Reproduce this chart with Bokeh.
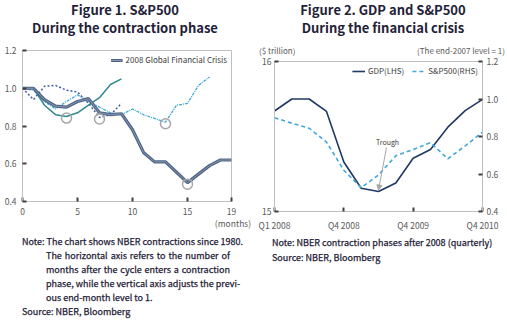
from bokeh.plotting import figure
from bokeh.models import (Range1d, LinearAxis, FixedTicker, Label, Legend, LegendItem,
                          Arrow, NormalHead, Div)
from bokeh.layouts import row, column
from bokeh.embed import file_html
from bokeh.resources import INLINE
import numpy as np

# ---------------- data ----------------
# Figure 1: S&P500 during contraction phases (months after cycle start, previous end-month = 1)
gfc_months = list(range(0, 20))
gfc_vals = [1.0, 1.0, 0.94, 0.905, 0.90, 0.93, 0.945, 0.87, 0.86, 0.865,
            0.78, 0.66, 0.61, 0.61, 0.555, 0.50, 0.545, 0.59, 0.62, 0.62]
teal_months = list(range(0, 10))
teal_vals = [1.0, 1.0, 0.91, 0.86, 0.85, 0.87, 0.91, 0.95, 1.02, 1.05]
navy_months = list(range(0, 10))
navy_vals = [1.0, 0.94, 1.01, 1.015, 0.99, 0.98, 0.92, 0.845, 0.86, 0.92]
light_months = list(range(0, 18))
light_vals = [1.0, 0.99, 0.93, 0.89, 0.93, 0.965, 0.93, 0.90, 0.87, 0.86,
              0.89, 0.86, 0.84, 0.82, 0.91, 0.92, 1.015, 1.06]
fig1_xticks = [0, 5, 10, 15, 19]
fig1_yticks = [0.4, 0.6, 0.8, 1.0, 1.2]

# Figure 2: GDP (LHS, $ trillion) and S&P500 (RHS, end-2007 = 1), quarterly
q_index = list(range(0, 13))
q_tick_labels = {0: "Q1 2008", 4: "Q4 2008", 8: "Q4 2009", 12: "Q4 2010"}
gdp_vals = [15.67, 15.75, 15.75, 15.667, 15.33, 15.155, 15.133, 15.19, 15.355,
            15.413, 15.562, 15.673, 15.747]
sp_vals = [0.90, 0.871, 0.844, 0.77, 0.62, 0.527, 0.595, 0.697, 0.731, 0.767,
           0.681, 0.75, 0.823]

FONT = "Noto Sans CJK KR"
TXT = "#1f2238"
AX = "#bfbfbf"
TICKLAB = "#595959"

def style_axis(ax):
    ax.axis_line_color = AX
    ax.major_tick_line_color = "#404040"
    ax.major_tick_line_width = 2
    ax.major_tick_in = 4
    ax.major_tick_out = 0
    ax.minor_tick_line_color = None
    ax.major_label_text_font = FONT
    ax.major_label_text_font_size = "8.5px"
    ax.major_label_text_color = TICKLAB

# ---------------- Figure 1 ----------------
p1 = figure(width=253, height=175, x_range=Range1d(0, 19), y_range=Range1d(0.4, 1.2),
            output_backend="svg", toolbar_location=None, margin=0,
            min_border_left=22, min_border_right=22, min_border_top=6, min_border_bottom=18)
p1.grid.visible = False
p1.outline_line_color = AX
style_axis(p1.xaxis[0]); style_axis(p1.yaxis[0])
p1.xaxis.ticker = FixedTicker(ticks=fig1_xticks)
p1.yaxis.ticker = FixedTicker(ticks=fig1_yticks)
p1.yaxis.major_label_overrides = {v: f"{v:.1f}" for v in fig1_yticks}
p1.xaxis.major_label_standoff = 6
p1.yaxis.major_label_standoff = 6

p1.line(light_months, light_vals, line_color="#3ea8d4", line_width=1.3, line_dash="3 1 1 1")
p1.line(navy_months, navy_vals, line_color="#3d5ea6", line_width=1.5, line_dash="2 2")
p1.line(teal_months, teal_vals, line_color="#31898e", line_width=1.5)
g_outer = p1.line(gfc_months, gfc_vals, line_color="#4f6485", line_width=3.2)
g_inner = p1.line(gfc_months, gfc_vals, line_color="#8696b0", line_width=1)

# trough circles
tx, ty = [], []
for ms, vs in ((teal_months, teal_vals), (navy_months, navy_vals),
               (light_months, light_vals), (gfc_months, gfc_vals)):
    i = int(np.argmin(vs))
    tx.append(ms[i]); ty.append(vs[i] - 0.008)
p1.scatter(tx, ty, size=10, fill_color=None, line_color="#a6a6a6", line_width=1.5)

leg1 = Legend(items=[LegendItem(label="2008 Global Financial Crisis", renderers=[g_outer, g_inner])],
              location="top_right", margin=4, padding=0, border_line_color=None,
              background_fill_alpha=0, label_text_font=FONT, label_text_font_size="8px",
              label_text_color="#404040", glyph_width=12, glyph_height=10, label_height=10,
              label_standoff=3)
p1.add_layout(leg1)

# ---------------- Figure 2 ----------------
p2 = figure(width=254, height=179, x_range=Range1d(0, 12), y_range=Range1d(15, 16),
            output_backend="svg", toolbar_location=None, margin=0,
            min_border_left=21, min_border_right=25, min_border_top=5, min_border_bottom=24)
p2.extra_y_ranges = {"rhs": Range1d(0.4, 1.2)}
p2.grid.visible = False
p2.outline_line_color = AX
rax = LinearAxis(y_range_name="rhs")
p2.add_layout(rax, "right")
for ax in (p2.xaxis[0], p2.yaxis[0], rax):
    style_axis(ax)
p2.xaxis.ticker = FixedTicker(ticks=list(q_tick_labels.keys()))
p2.xaxis.major_label_overrides = q_tick_labels
p2.xaxis.major_label_standoff = 7
p2.yaxis[0].ticker = FixedTicker(ticks=[15, 16])
p2.yaxis[0].major_label_standoff = 3
rax.ticker = FixedTicker(ticks=fig1_yticks)
rax.major_label_overrides = {v: f"{v:.1f}" for v in fig1_yticks}
rax.major_label_standoff = 4

r_gdp = p2.line(q_index, gdp_vals, line_color="#203864", line_width=1.6)
r_sp = p2.line(q_index, sp_vals, line_color="#41a7d9", line_width=1.6, line_dash="4 3",
               y_range_name="rhs")

leg2 = Legend(items=[LegendItem(label="GDP(LHS)", renderers=[r_gdp]),
                     LegendItem(label="S&P500(RHS)", renderers=[r_sp])],
              location="top_right", orientation="horizontal", margin=4, padding=0,
              border_line_color=None, background_fill_alpha=0, label_text_font=FONT,
              label_text_font_size="8px", label_text_color="#404040", glyph_width=13,
              glyph_height=10, label_height=10, label_standoff=3, spacing=8)
p2.add_layout(leg2)

def f2x(px): return (px - 274) / (208 / 12)
def f2y(py): return 15 + (211 - py) / 150.0

ti = int(np.argmin(gdp_vals))
p2.add_layout(Arrow(end=NormalHead(size=5, fill_color="#a6a6a6", line_color="#a6a6a6"),
                    x_start=f2x(386), y_start=f2y(147), x_end=q_index[ti],
                    y_end=gdp_vals[ti] + 0.01, line_color="#a6a6a6", line_width=1))
p2.add_layout(Label(x=f2x(387), y=f2y(141), text="Trough", text_font=FONT,
                    text_font_size="7px", text_align="center", text_baseline="middle",
                    text_color="#404040"))

# ---------------- text blocks (titles / notes) ----------------
FF = "font-family:'Noto Sans CJK KR',sans-serif;"
title_css = FF + f"font-weight:bold;font-size:13px;color:{TXT};line-height:18px;text-align:center;white-space:nowrap;"

t1 = Div(width=253, height=44, margin=0,
         text=f"<div style=\"{title_css}width:250px;padding-top:1px\">Figure 1. S&amp;P500<br>During the contraction phase</div>")
t2 = Div(width=254, height=56, margin=0,
         text=("<div style=\"position:relative;width:254px;height:56px\">"
               f"<div style=\"{title_css}position:absolute;left:6px;top:1px;width:248px\">Figure 2. GDP and S&amp;P500<br>During the financial crisis</div>"
               f"<div style=\"{FF}position:absolute;left:6px;top:45px;font-size:8px;line-height:12px;color:{TICKLAB};white-space:nowrap\">($ trillion)</div>"
               f"<div style=\"{FF}position:absolute;right:2px;top:45px;font-size:8px;line-height:12px;color:{TICKLAB};white-space:nowrap\">(The end-2007 level = 1)</div>"
               "</div>"))

note_css = FF + (f"font-weight:400;font-size:9px;line-height:14px;color:{TXT};white-space:nowrap;"
                 f"-webkit-text-stroke:0.25px {TXT};")
def jline(text, left, width, justify=True):
    j = "text-align:justify;text-align-last:justify;" if justify else "text-align:left;"
    return f"<div style=\"margin-left:{left}px;width:{width}px;{j}\">{text}</div>"

# left block starts at page y=219
n1_html = ("<div style=\"position:relative;width:253px;height:102px\">"
           f"<div style=\"{FF}position:absolute;left:213px;top:0px;width:40px;text-align:center;font-size:8.5px;line-height:8px;color:{TICKLAB};white-space:nowrap\">(months)</div>"
           f"<div style=\"{note_css}position:absolute;left:0px;top:16px;width:253px\">"
           + jline("Note: The chart shows NBER contractions since 1980.", 22, 208)
           + jline("The horizontal axis refers to the number of", 46, 184)
           + jline("months after the cycle enters a contraction", 46, 184)
           + jline("phase, while the vertical axis adjusts the previ-", 46, 184)
           + jline("ous end-month level to 1.", 46, 184, False)
           + jline("Source: NBER, Bloomberg", 22, 208, False)
           + "</div></div>")
n1 = Div(width=253, height=102, margin=0, text=n1_html)

# right block starts at page y=235
n2_html = (f"<div style=\"{note_css}line-height:15px;padding-top:0px\">"
           + jline("Note: NBER contraction phases after 2008 (quarterly)", 19, 230, False)
           + jline("Source: NBER, Bloomberg", 19, 230, False)
           + "</div>")
n2 = Div(width=254, height=86, margin=0, text=n2_html)

left = column(t1, p1, n1, spacing=0, margin=0)
right = column(t2, p2, n2, spacing=0, margin=0)
layout = row(left, right, spacing=0, margin=0)
open("out.html", "w").write(file_html(layout, INLINE))
